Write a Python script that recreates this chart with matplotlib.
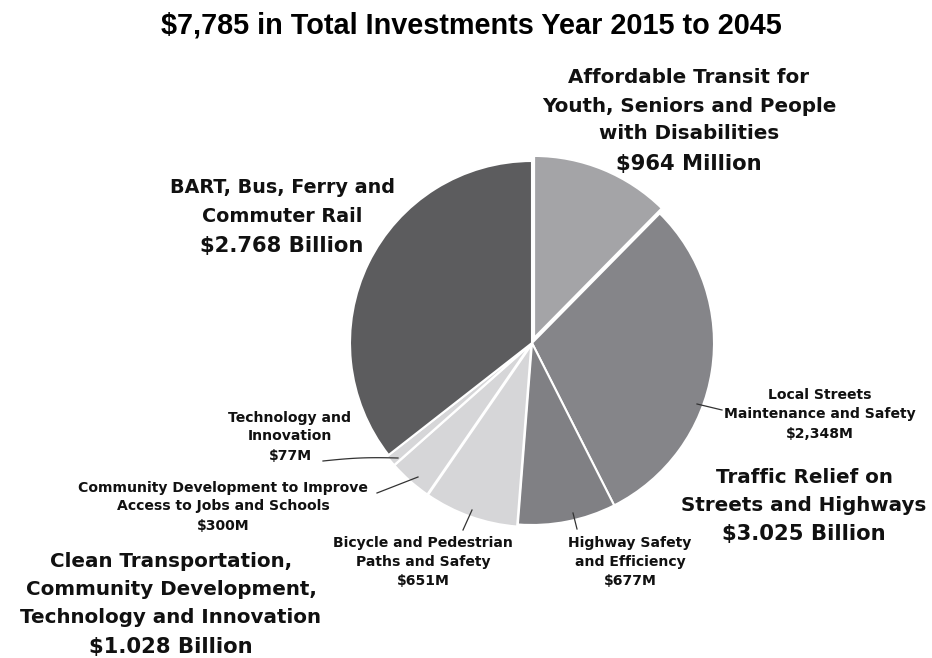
import matplotlib
matplotlib.use("Agg")
import matplotlib.pyplot as plt
import numpy as np

# ---- data ----
categories = [
    "Affordable Transit for Youth, Seniors and People with Disabilities",
    "Local Streets Maintenance and Safety",
    "Highway Safety and Efficiency",
    "Bicycle and Pedestrian Paths and Safety",
    "Community Development to Improve Access to Jobs and Schools",
    "Technology and Innovation",
    "BART, Bus, Ferry and Commuter Rail",
]
values = [964, 2348, 677, 651, 300, 77, 2768]
colors = ["#a4a4a7", "#858589", "#808084", "#d6d6d8", "#d6d6d8", "#d6d6d8", "#5c5c5e"]
explode = [0.03, 0.0, 0.0, 0.012, 0.012, 0.012, 0.0]

title = "$7,785 in Total Investments Year 2015 to 2045"

W, H = 932, 658
fig = plt.figure(figsize=(W / 100, H / 100), dpi=100)
fig.patch.set_facecolor("white")

cx, cy, r = 532, 343, 182
pad = 1.1
ax = fig.add_axes([(cx - r * pad) / W, 1 - (cy + r * pad) / H, 2 * r * pad / W, 2 * r * pad / H])
ax.pie(values, colors=colors, startangle=90, counterclock=False, explode=explode,
       radius=1.0, wedgeprops=dict(edgecolor="white", linewidth=1.5))
ax.set_xlim(-pad, pad)
ax.set_ylim(-pad, pad)
ax.set_aspect("equal")
ax.axis("off")

LF = ["DejaVu Sans"]


def px(x, y):
    return x / W, 1 - y / H


def lines(x, ys, texts, sizes):
    for y, t, s in zip(ys, texts, sizes):
        fig.text(*px(x, y), t, ha="center", va="baseline", fontsize=s,
                 fontweight="bold", family=LF, color="#111111")


fig.text(*px(471, 33), title, ha="center", va="baseline", fontsize=20.8,
         fontweight="bold", family=["Liberation Sans", "DejaVu Sans"], color="black")

big, big2, small = 14.3, 15.2, 10.1
lines(689, [83, 112, 139, 170],
      ["Affordable Transit for", "Youth, Seniors and People", "with Disabilities", "$964 Million"],
      [big, big, big, big2])
lines(282, [193, 222, 252],
      ["BART, Bus, Ferry and", "Commuter Rail", "$2.768 Billion"], [13.8, 13.8, big2])
lines(804, [483, 511, 540],
      ["Traffic Relief on", "Streets and Highways", "$3.025 Billion"], [big, big, big2])
lines(171, [567, 595, 623, 653],
      ["Clean Transportation,", "Community Development,", "Technology and Innovation", "$1.028 Billion"],
      [big, big, big, big2])

lines(820, [399, 418, 438], ["Local Streets", "Maintenance and Safety", "$2,348M"], [small] * 3)
lines(630, [547, 566, 585], ["Highway Safety", "and Efficiency", "$677M"], [small] * 3)
lines(423, [547, 566, 585], ["Bicycle and Pedestrian", "Paths and Safety", "$651M"], [small] * 3)
lines(223, [492, 510, 530], ["Community Development to Improve", "Access to Jobs and Schools", "$300M"], [small] * 3)
lines(290, [422, 440, 460], ["Technology and", "Innovation", "$77M"], [small] * 3)

# leader lines
leaders = [((697, 404), (722, 410)), ((573, 513), (577, 529)), ((472, 510), (463, 530)),
           ((418, 477), (377, 493))]
for (x0, y0), (x1, y1) in leaders:
    fig.add_artist(plt.Line2D([x0 / W, x1 / W], [1 - y0 / H, 1 - y1 / H], color="#333333", lw=0.9))
tx = np.linspace(323, 398, 30)
ty = 461 - (tx - 323) / 75 * 3 - 1.5 * np.sin((tx - 323) / 75 * np.pi)
fig.add_artist(plt.Line2D(tx / W, 1 - ty / H, color="#333333", lw=0.9))

fig.savefig("out.png", dpi=100, facecolor="white")
